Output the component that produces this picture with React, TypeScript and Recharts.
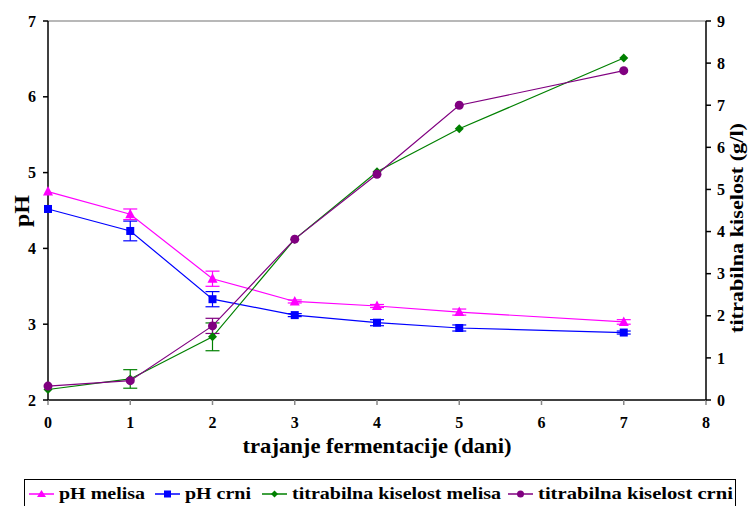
import React from 'react';
import { LineChart, Line, XAxis, YAxis, ErrorBar, ReferenceLine, Legend, Label } from 'recharts';

if (typeof document !== 'undefined') document.body.style.margin = '0';

const days = [0, 1, 2, 3, 4, 5, 7];
const phMelisa = [4.75, 4.45, 3.6, 3.3, 3.24, 3.16, 3.03];
const phMelisaErr = [null, 0.07, 0.1, 0.02, 0.02, 0.04, 0.03];
const phCrni = [4.52, 4.23, 3.33, 3.12, 3.02, 2.95, 2.89];
const phCrniErr = [null, 0.13, 0.1, 0.02, 0.04, 0.04, 0.02];
const tkMelisa = [0.25, 0.5, 1.5, 3.82, 5.42, 6.44, 8.12];
const tkMelisaErr = [null, 0.22, 0.33, null, null, null, null];
const tkCrni = [0.33, 0.46, 1.76, 3.82, 5.36, 7.0, 7.82];
const tkCrniErr = [null, null, 0.18, null, null, null, null];

const xTicks = [0, 1, 2, 3, 4, 5, 6, 7, 8];
const phTicks = [2, 3, 4, 5, 6, 7];
const tkTicks = [0, 1, 2, 3, 4, 5, 6, 7, 8, 9];

const seriesNames = ['pH melisa', 'pH crni', 'titrabilna kiselost melisa', 'titrabilna kiselost crni'];
const colors = ['#FF00FF', '#0000FF', '#008000', '#800080'];

const data = days.map((d, i) => ({
  day: d,
  phMelisa: phMelisa[i],
  phMelisaErr: phMelisaErr[i],
  phCrni: phCrni[i],
  phCrniErr: phCrniErr[i],
  tkMelisa: tkMelisa[i],
  tkMelisaErr: tkMelisaErr[i],
  tkCrni: tkCrni[i],
  tkCrniErr: tkCrniErr[i],
}));

const FONT = '"Liberation Serif", "Times New Roman", serif';

const Triangle = (props: any) => {
  const { cx, cy, fill } = props;
  if (cx == null || cy == null) return null;
  return <polygon points={`${cx},${cy - 5.5} ${cx + 5},${cy + 4} ${cx - 5},${cy + 4}`} fill={fill} />;
};
const Square = (props: any) => {
  const { cx, cy, fill } = props;
  if (cx == null || cy == null) return null;
  return <rect x={cx - 4} y={cy - 4} width={8} height={8} fill={fill} />;
};
const Diamond = (props: any) => {
  const { cx, cy, fill } = props;
  if (cx == null || cy == null) return null;
  return <polygon points={`${cx},${cy - 4.5} ${cx + 4.5},${cy} ${cx},${cy + 4.5} ${cx - 4.5},${cy}`} fill={fill} />;
};
const Circle = (props: any) => {
  const { cx, cy, fill } = props;
  if (cx == null || cy == null) return null;
  return <circle cx={cx} cy={cy} r={4.5} fill={fill} />;
};

// legend layout (relative to legend box)
const legendIconX = [5, 131, 238, 484];
const legendTextX = [35, 161, 268, 514];
const legendTextLen = [86, 66, 209, 195];

const legendMarker = (i: number, m: number, y: number) => {
  const c = colors[i];
  if (i === 0) return <polygon points={`${m},${y - 4} ${m + 4.5},${y + 3} ${m - 4.5},${y + 3}`} fill={c} />;
  if (i === 1) return <rect x={m - 3.5} y={y - 3.5} width={7} height={7} fill={c} />;
  if (i === 2) return <polygon points={`${m},${y - 3.5} ${m + 3.5},${y} ${m},${y + 3.5} ${m - 3.5},${y}`} fill={c} />;
  return <circle cx={m} cy={y} r={3.5} fill={c} />;
};

const LegendContent = () => (
  <svg width={712} height={30} style={{ display: 'block' }}>
    <rect x={0.5} y={0.5} width={711} height={40} fill="#fff" stroke="#000" strokeWidth={1} />
    {seriesNames.map((n, i) => (
      <g key={n}>
        <line x1={legendIconX[i]} y1={15} x2={legendIconX[i] + 25} y2={15} stroke={colors[i]} strokeWidth={1.5} />
        {legendMarker(i, legendIconX[i] + 12.5, 15)}
        <text
          x={legendTextX[i]}
          y={20}
          textLength={legendTextLen[i]}
          lengthAdjust="spacingAndGlyphs"
          style={{ fontFamily: FONT, fontWeight: 'bold', fontSize: 17.5 }}
          fill="#000"
        >
          {n}
        </text>
      </g>
    ))}
  </svg>
);

const tickStyle = { fontFamily: FONT, fontWeight: 'bold' as const, fontSize: 16, fill: '#000' };

export default function App() {
  return (
    <div style={{ position: 'relative', width: 748, height: 506, background: '#fff', overflow: 'hidden' }}>
      <LineChart width={748} height={506} data={data} margin={{ top: 21, right: 0, bottom: 0, left: 0 }}>
        <XAxis
          dataKey="day"
          type="number"
          domain={[0, 8]}
          ticks={xTicks}
          interval={0}
          height={106}
          tickSize={5}
          tickMargin={12}
          tick={tickStyle}
          axisLine={{ stroke: '#000', strokeWidth: 1.5 }}
          tickLine={{ stroke: '#888', strokeWidth: 1.5 }}
        >
          <Label
            content={() => (
              <text
                x={377}
                y={453}
                textAnchor="middle"
                textLength={269}
                lengthAdjust="spacingAndGlyphs"
                style={{ fontFamily: FONT, fontWeight: 'bold', fontSize: 21 }}
                fill="#000"
              >
                trajanje fermentacije (dani)
              </text>
            )}
          />
        </XAxis>
        <YAxis
          yAxisId="ph"
          domain={[2, 7]}
          ticks={phTicks}
          interval={0}
          width={48}
          tickSize={5}
          tickMargin={7}
          tick={tickStyle}
          axisLine={{ stroke: '#000', strokeWidth: 1.5 }}
          tickLine={{ stroke: '#000', strokeWidth: 1.5 }}
        >
          <Label
            content={() => (
              <text
                x={29}
                y={211}
                transform="rotate(-90 29 211)"
                textAnchor="middle"
                textLength={32}
                lengthAdjust="spacingAndGlyphs"
                style={{ fontFamily: FONT, fontWeight: 'bold', fontSize: 21 }}
                fill="#000"
              >
                pH
              </text>
            )}
          />
        </YAxis>
        <YAxis
          yAxisId="tk"
          orientation="right"
          domain={[0, 9]}
          ticks={tkTicks}
          interval={0}
          width={42}
          tickSize={5}
          tickMargin={6}
          tick={tickStyle}
          axisLine={{ stroke: '#000', strokeWidth: 1.5 }}
          tickLine={{ stroke: '#000', strokeWidth: 1.5 }}
        >
          <Label
            content={() => (
              <text
                x={743}
                y={228}
                transform="rotate(-90 743 228)"
                textAnchor="middle"
                textLength={210}
                lengthAdjust="spacingAndGlyphs"
                style={{ fontFamily: FONT, fontWeight: 'bold', fontSize: 18 }}
                fill="#000"
              >
                titrabilna kiselost (g/l)
              </text>
            )}
          />
        </YAxis>
        <ReferenceLine yAxisId="ph" y={7} stroke="#a0a0a0" strokeWidth={1.5} />
        <Line yAxisId="ph" dataKey="phMelisa" name={seriesNames[0]} stroke={colors[0]} strokeWidth={1.2} dot={<Triangle fill={colors[0]} />} isAnimationActive={false}>
          <ErrorBar dataKey="phMelisaErr" width={7} stroke={colors[0]} strokeWidth={1.2} direction="y" />
        </Line>
        <Line yAxisId="ph" dataKey="phCrni" name={seriesNames[1]} stroke={colors[1]} strokeWidth={1.2} dot={<Square fill={colors[1]} />} isAnimationActive={false}>
          <ErrorBar dataKey="phCrniErr" width={7} stroke={colors[1]} strokeWidth={1.2} direction="y" />
        </Line>
        <Line yAxisId="tk" dataKey="tkMelisa" name={seriesNames[2]} stroke={colors[2]} strokeWidth={1.2} dot={<Diamond fill={colors[2]} />} isAnimationActive={false}>
          <ErrorBar dataKey="tkMelisaErr" width={7} stroke={colors[2]} strokeWidth={1.2} direction="y" />
        </Line>
        <Line yAxisId="tk" dataKey="tkCrni" name={seriesNames[3]} stroke={colors[3]} strokeWidth={1.2} dot={<Circle fill={colors[3]} />} isAnimationActive={false}>
          <ErrorBar dataKey="tkCrniErr" width={7} stroke={colors[3]} strokeWidth={1.2} direction="y" />
        </Line>
        <Legend
          layout="horizontal"
          verticalAlign="middle"
          align="center"
          wrapperStyle={{ top: 479, left: 24, width: 712, height: 30 }}
          content={<LegendContent />}
        />
      </LineChart>
    </div>
  );
}
